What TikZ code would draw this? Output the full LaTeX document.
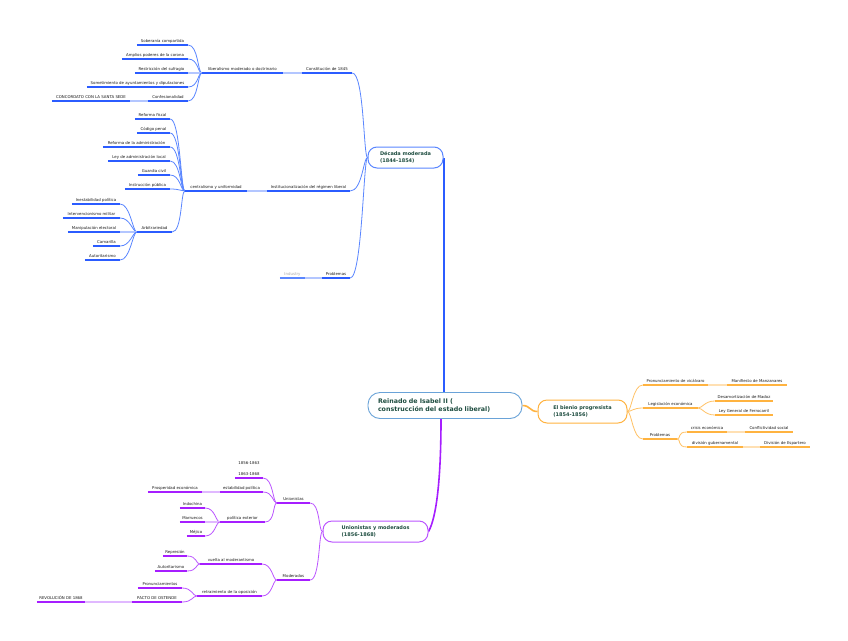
\documentclass[tikz,border=0pt]{standalone}
\usepackage{fontspec}
\setmainfont{DejaVu Sans}
\pgfdeclarelayer{bg}
\pgfdeclarelayer{paper}
\pgfsetlayers{paper,bg,main}
\definecolor{bU}{HTML}{2B5CFF}
\definecolor{bC}{HTML}{5A86FF}
\definecolor{bL}{HTML}{B3C6FF}
\definecolor{oU}{HTML}{FFB340}
\definecolor{oC}{HTML}{FFC266}
\definecolor{oL}{HTML}{FFE0B3}
\definecolor{pU}{HTML}{A61EFF}
\definecolor{pC}{HTML}{BB55FF}
\definecolor{pL}{HTML}{E0B8FF}
\definecolor{rootline}{HTML}{6AA3D8}
\definecolor{ttl}{HTML}{1E4D40}
\definecolor{txt}{HTML}{1A1A1A}
\definecolor{gtxt}{HTML}{A8A8A8}
\newcommand\tpfont{\fontsize{3.9}{4.6}\selectfont}
\newcommand\mainfnt{\fontsize{5}{7}\selectfont\bfseries}
\newcommand\rootfnt{\fontsize{6.3}{8.5}\selectfont\bfseries}
\newcommand\mmtopic[6]{%
  \pgfmathsetmacro\mmw{#3-#2}%
  \pgfmathsetmacro\mmx{(#2+#3)/2}%
  \node[tpbox, minimum width=\mmw pt] (#1) at (\mmx,#4) {#6};%
  \draw[#5] (#1.south west) -- (#1.south east);%
}
\newcommand\conL[3]{\draw[#1] (#2) .. controls +(-4,0) and +(10,0) .. (#3);}
\newcommand\conR[3]{\draw[#1] (#2) .. controls +(4,0) and +(-10,0) .. (#3);}
\tikzset{
  tpbox/.style={anchor=south, inner xsep=0pt, inner ysep=1.6pt, text height=2.9pt, text depth=0.9pt, font=\tpfont, text=txt},
  ulb/.style={draw=bU, line width=1.3pt},
  ulo/.style={draw=oU, line width=1.3pt},
  ulp/.style={draw=pU, line width=1.3pt},
  ulg/.style={draw=bC, line width=1.1pt},
  cb/.style={draw=bC, line width=0.8pt},
  cbl/.style={draw=bL, line width=1.1pt},
  co/.style={draw=oC, line width=0.8pt},
  col/.style={draw=oL, line width=1.1pt},
  cpp/.style={draw=pC, line width=0.8pt},
  cpl/.style={draw=pL, line width=1.1pt},
  mainbox/.style={rounded corners=9pt, fill=white, line width=1pt, font=\mainfnt, text=ttl, align=left, inner xsep=4pt},
  rootbox/.style={rounded corners=12pt, fill=white, draw=rootline, line width=0.9pt, font=\rootfnt, text=ttl, align=left},
}
\begin{document}
\begin{tikzpicture}[x=1pt,y=-1pt]
\begin{pgfonlayer}{paper}
\fill[white] (0,0) rectangle (848,640);
\end{pgfonlayer}
\useasboundingbox (0,0) rectangle (848,640);

% main nodes
\node[rootbox, minimum width=154pt, minimum height=26pt, inner xsep=10pt, text width=134pt] (root) at (445,405.5) {Reinado de Isabel II (\\construcción del estado liberal)};
\node[mainbox, draw=bC, minimum width=75pt, minimum height=21pt] (dec) at (405.5,157.5) {Década moderada\\(1844-1854)};
\node[mainbox, draw=oU, minimum width=89pt, minimum height=23pt] (bien) at (582.5,411.5) {El bienio progresista\\(1854-1856)};
\node[mainbox, draw=pC, minimum width=105pt, minimum height=21pt] (uym) at (375.5,531.5) {Unionistas y moderados\\(1856-1868)};

% blue branch
\mmtopic{const}{302}{352}{73}{ulb}{Constitución de 1845}
\mmtopic{lib}{202}{283}{73}{ulb}{liberalismo moderado o doctrinario}
\mmtopic{sob}{137}{188}{45}{ulb}{Soberanía compartida}
\mmtopic{amp}{122}{188}{59}{ulb}{Amplios poderes de la corona}
\mmtopic{res}{135}{188}{73}{ulb}{Restricción del sufragio}
\mmtopic{som}{87}{188}{87}{ulb}{Sometimiento de ayuntamientos y diputaciones}
\mmtopic{conf}{148}{188}{101}{ulb}{Confesionalidad}
\mmtopic{conc}{52}{130}{101}{ulb}{CONCORDATO CON LA SANTA SEDE}
\mmtopic{inst}{267}{350}{191}{ulb}{Institucionalización del régimen liberal}
\mmtopic{cent}{185}{247}{191}{ulb}{centralismo y uniformidad}
\mmtopic{rf}{135}{170}{119}{ulb}{Reforma fiscal}
\mmtopic{cpn}{137}{170}{133}{ulb}{Código penal}
\mmtopic{ra}{103}{170}{147}{ulb}{Reforma de la administración}
\mmtopic{lal}{108}{170}{161}{ulb}{Ley de administración local}
\mmtopic{gc}{138}{170}{175}{ulb}{Guardia civil}
\mmtopic{ip}{125}{170}{189}{ulb}{Instrucción pública}
\mmtopic{arb}{137}{172}{232}{ulb}{Arbitrariedad}
\mmtopic{ine}{72}{120}{204}{ulb}{Inestabilidad política}
\mmtopic{intv}{63}{120}{218}{ulb}{Intervencionismo militar}
\mmtopic{man}{68}{120}{232}{ulb}{Manipulación electoral}
\mmtopic{cam}{93}{120}{246}{ulb}{Camarilla}
\mmtopic{aut}{85}{120}{260}{ulb}{Autoritarismo}
\mmtopic{prob}{322}{350}{278}{ulb}{Problemas}
\mmtopic{ind}{280}{305}{278}{ulg}{\textcolor{gtxt}{Industry}}

% orange branch
\mmtopic{pv}{643}{708}{385}{ulo}{Pronunciamiento de vicálvaro}
\mmtopic{mm}{727}{787}{385}{ulo}{Manifiesto de Manzanares}
\mmtopic{le}{643}{698}{408}{ulo}{Legislación económica}
\mmtopic{dm}{715}{773}{401}{ulo}{Desamortización de Madoz}
\mmtopic{lg}{715}{773}{415}{ulo}{Ley General de Ferrocarril}
\mmtopic{prb}{643}{677}{439}{ulo}{Problemas}
\mmtopic{ce}{687}{727}{432}{ulo}{crisis económica}
\mmtopic{cs}{745}{793}{432}{ulo}{Conflictividad social}
\mmtopic{dg}{687}{743}{447}{ulo}{división gubernamental}
\mmtopic{de}{760}{810}{447}{ulo}{División de Espartero}

% purple branch
\mmtopic{uni}{277}{310}{503}{ulp}{Unionistas}
\mmtopic{yrs}{235}{263}{478}{ulp}{\begin{tabular}[b]{@{}c@{}}1856-1863\\[6.3pt]1863-1868\end{tabular}}
\mmtopic{est}{220}{263}{492}{ulp}{estabilidad política}
\mmtopic{pe}{148}{202}{492}{ulp}{Prosperidad económica}
\mmtopic{pol}{220}{265}{522}{ulp}{política exterior}
\mmtopic{indo}{180}{205}{508}{ulp}{Indochina}
\mmtopic{mar}{180}{205}{522}{ulp}{Marruecos}
\mmtopic{mej}{187}{205}{536}{ulp}{Méjico}
\mmtopic{mod}{277}{310}{580}{ulp}{Moderados}
\mmtopic{vue}{200}{262}{564}{ulp}{vuelta al moderantismo}
\mmtopic{rep}{163}{187}{556}{ulp}{Represión}
\mmtopic{aut2}{155}{187}{571}{ulp}{Autoritarismo}
\mmtopic{ret}{197}{262}{596}{ulp}{retraimiento de la oposición}
\mmtopic{pro}{138}{182}{588}{ulp}{Pronunciamientos}
\mmtopic{pac}{132}{182}{602}{ulp}{PACTO DE OSTENDE}
\mmtopic{rev}{37}{85}{602}{ulp}{REVOLUCIÓN DE 1868}

\begin{pgfonlayer}{bg}
% trunks
\draw[draw=bU, line width=2pt] (root.north -| dec.east) -- (dec.east);
\draw[draw=pU, line width=1.6pt] ([xshift=-4pt]root.south) .. controls +(0,60) and +(8,-14) .. (uym.east);
\draw[draw=oU, line width=1.6pt] (root.east) .. controls +(8,0) and +(-8,0) .. (bien.west);
% blue
\draw[cb] (dec.west) .. controls +(-4,0) and +(12,0) .. (const.south east);
\draw[cb] (dec.west) .. controls +(-4,0) and +(12,0) .. (inst.south east);
\draw[cb] (dec.west) .. controls +(-4,0) and +(12,0) .. (prob.south east);
\conL{cbl}{const.south west}{lib.south east}
\conL{cb}{lib.south west}{sob.south east}
\conL{cb}{lib.south west}{amp.south east}
\conL{cbl}{lib.south west}{res.south east}
\conL{cb}{lib.south west}{som.south east}
\conL{cb}{lib.south west}{conf.south east}
\conL{cbl}{conf.south west}{conc.south east}
\conL{cbl}{inst.south west}{cent.south east}
\conL{cb}{cent.south west}{rf.south east}
\conL{cb}{cent.south west}{cpn.south east}
\conL{cb}{cent.south west}{ra.south east}
\conL{cb}{cent.south west}{lal.south east}
\conL{cb}{cent.south west}{gc.south east}
\conL{cb}{cent.south west}{ip.south east}
\conL{cb}{cent.south west}{arb.south east}
\conL{cb}{arb.south west}{ine.south east}
\conL{cb}{arb.south west}{intv.south east}
\conL{cbl}{arb.south west}{man.south east}
\conL{cb}{arb.south west}{cam.south east}
\conL{cb}{arb.south west}{aut.south east}
\conL{cbl}{prob.south west}{ind.south east}
% orange
\conR{co}{bien.east}{pv.south west}
\conR{co}{bien.east}{le.south west}
\conR{co}{bien.east}{prb.south west}
\conR{col}{pv.south east}{mm.south west}
\conR{co}{le.south east}{dm.south west}
\conR{co}{le.south east}{lg.south west}
\conR{co}{prb.south east}{ce.south west}
\conR{co}{prb.south east}{dg.south west}
\conR{col}{ce.south east}{cs.south west}
\conR{col}{dg.south east}{de.south west}
% purple
\conL{cpp}{uym.west}{uni.south east}
\conL{cpp}{uym.west}{mod.south east}
\conL{cpp}{uni.south west}{yrs.south east}
\conL{cpp}{uni.south west}{est.south east}
\conL{cpp}{uni.south west}{pol.south east}
\conL{cpl}{est.south west}{pe.south east}
\conL{cpp}{pol.south west}{indo.south east}
\conL{cpl}{pol.south west}{mar.south east}
\conL{cpp}{pol.south west}{mej.south east}
\conL{cpp}{mod.south west}{vue.south east}
\conL{cpp}{mod.south west}{ret.south east}
\conL{cpp}{vue.south west}{rep.south east}
\conL{cpp}{vue.south west}{aut2.south east}
\conL{cpp}{ret.south west}{pro.south east}
\conL{cpp}{ret.south west}{pac.south east}
\conL{cpl}{pac.south west}{rev.south east}
\end{pgfonlayer}
\end{tikzpicture}
\end{document}
